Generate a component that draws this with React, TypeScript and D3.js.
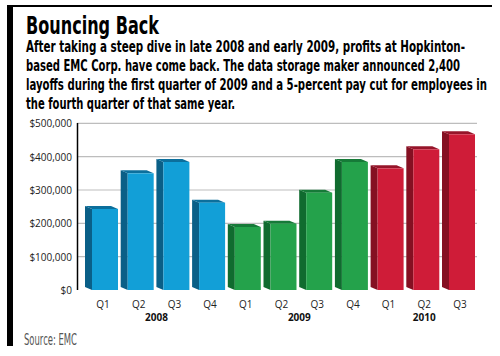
import React from "react";
import * as d3 from "d3";

const quarters = ["Q1", "Q2", "Q3", "Q4", "Q1", "Q2", "Q3", "Q4", "Q1", "Q2", "Q3"];
const years = ["2008", "2008", "2008", "2008", "2009", "2009", "2009", "2009", "2010", "2010", "2010"];
const profits = [243000, 350000, 384000, 262000, 189000, 199000, 292000, 384000, 365000, 422000, 467000];
const yearLabels = ["2008", "2009", "2010"];
const yTicks = [0, 100000, 200000, 300000, 400000, 500000];

const title = "Bouncing Back";
const bodyLines = [
  "After taking a steep dive in late 2008 and early 2009, profits at Hopkinton-",
  "based EMC Corp. have come back. The data storage maker announced 2,400",
  "layoffs during the first quarter of 2009 and a 5-percent pay cut for employees in",
  "the fourth quarter of that same year.",
];
const bodyWidths = [439, 434, 461, 209];
const source = "Source: EMC";

const palette: Record<string, { front: string; side: string; top: string }> = {
  "2008": { front: "#129fd7", side: "#0a5f87", top: "#0c6f9c" },
  "2009": { front: "#24a24b", side: "#106b2f", top: "#167a38" },
  "2010": { front: "#cf1c38", side: "#851022", top: "#96152a" },
};

export default function App() {
  const W = 500, H = 356;
  const keys = quarters.map((_, i) => String(i));
  const x = d3.scaleBand<string>().domain(keys).range([92, 475]).paddingInner(0.272).paddingOuter(0);
  const y = d3.scaleLinear().domain([0, 500000]).range([290, 123.3]);
  const fmt = (v: number) => "$" + d3.format(",")(v);
  const dx = 7, dy = 3;
  const bw = x.bandwidth();
  const fontBody = "'Liberation Sans Narrow','DejaVu Sans Condensed','Liberation Sans',sans-serif";
  const axisFont = "'Open Sans',sans-serif";
  const bodySize = 9.5;
  const bodyScale = 15.5 / bodySize;

  return (
    <svg width={W} height={H} style={{ position: "absolute", left: 0, top: 0, background: "#fff" }}>
      <rect x={0} y={0} width={W} height={H} fill="#fff" />
      <rect x={7} y={5} width={6} height={341} fill="#000" />
      <rect x={7} y={5} width={485} height={2} fill="#000" />
      <text x={26} y={34} fontFamily={fontBody} fontWeight="bold" fontSize={24} textLength={133} lengthAdjust="spacingAndGlyphs" fill="#000">{title}</text>
      {bodyLines.map((l, i) => (
        <g key={i} transform={`translate(26,${52 + i * 19}) scale(1,${bodyScale})`}>
          <text x={0} y={0} fontFamily={fontBody} fontWeight="bold" fontSize={bodySize} textLength={bodyWidths[i]} lengthAdjust="spacingAndGlyphs" fill="#000">{l}</text>
        </g>
      ))}
      {yTicks.map((t) => (
        <g key={t}>
          {t > 0 && <line x1={77} x2={477} y1={y(t)} y2={y(t)} stroke="#bdbdbd" strokeWidth={1.2} />}
          <text x={72} y={y(t) + 4} textAnchor="end" fontFamily={axisFont} fontSize={10} fill="#222">{fmt(t)}</text>
        </g>
      ))}
      <line x1={77.5} x2={77.5} y1={123} y2={290} stroke="#000" strokeWidth={1.5} />
      {profits.map((v, i) => {
        const x0 = x(String(i))!;
        const x1 = x0 + bw;
        const yt = y(v);
        const yb = y(0);
        const c = palette[years[i]];
        return (
          <g key={i}>
            <polygon points={`${x0},${yt} ${x0},${yb} ${x0 - dx},${yb - dy} ${x0 - dx},${yt - dy}`} fill={c.side} />
            <polygon points={`${x0},${yt} ${x1},${yt} ${x1 - dx},${yt - dy} ${x0 - dx},${yt - dy}`} fill={c.top} />
            <rect x={x0} y={yt} width={bw} height={yb - yt} fill={c.front} />
            <text x={x0 + bw / 2 - 2} y={308} textAnchor="middle" fontFamily={axisFont} fontSize={10} fill="#222">{quarters[i]}</text>
          </g>
        );
      })}
      {yearLabels.map((yr) => {
        const idx = years.map((v, i) => (v === yr ? i : -1)).filter((i) => i >= 0);
        const cx = d3.mean(idx, (i) => x(String(i))! + bw / 2)!;
        return (
          <text key={yr} x={cx - 2} y={321} textAnchor="middle" fontFamily={axisFont} fontWeight="bold" fontSize={10} fill="#111">{yr}</text>
        );
      })}
      <text x={24} y={345} fontFamily={fontBody} fontSize={15} textLength={53} lengthAdjust="spacingAndGlyphs" fill="#555">{source}</text>
    </svg>
  );
}
